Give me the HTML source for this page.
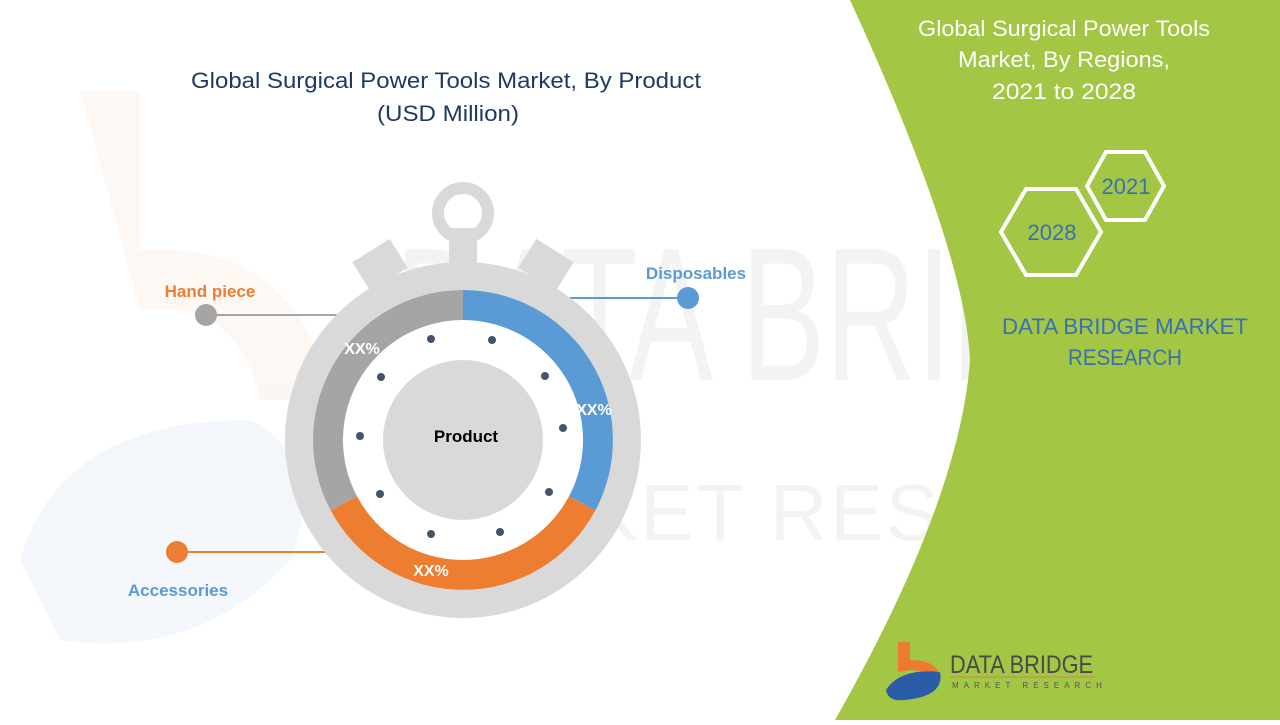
<!DOCTYPE html>
<html><head><meta charset="utf-8"><style>
body{margin:0;width:1280px;height:720px;overflow:hidden;background:#fff;font-family:"Liberation Sans",sans-serif}
</style></head><body>
<svg width="1280" height="720" viewBox="0 0 1280 720" xmlns="http://www.w3.org/2000/svg" font-family="Liberation Sans, sans-serif">
<g opacity="0.05">
<path d="M80,90 L140,90 L140,250 Q300,240 330,400 L260,400 Q240,300 140,310 Z" fill="#e8702a"/>
<path d="M20,560 Q60,420 250,420 Q330,460 290,560 Q200,660 60,640 Z" fill="#2a5ca8"/>
<text x="395" y="380" font-size="190" fill="#333" textLength="830" lengthAdjust="spacingAndGlyphs">DATA BRIDGE</text>
<text x="400" y="540" font-size="80" fill="#333" textLength="830" lengthAdjust="spacing">MARKET RESEARCH</text>
</g>
<path d="M850,0 L1280,0 L1280,720 L835,720 Q960,500 970,360 Q965,250 850,0 Z" fill="#a3c645"/>
<text x="1064" y="36" font-size="22" fill="#fff" text-anchor="middle" textLength="292" lengthAdjust="spacingAndGlyphs">Global Surgical Power Tools</text>
<text x="1064" y="67" font-size="22" fill="#fff" text-anchor="middle" textLength="212" lengthAdjust="spacingAndGlyphs">Market, By Regions,</text>
<text x="1064" y="99" font-size="22" fill="#fff" text-anchor="middle" textLength="144" lengthAdjust="spacingAndGlyphs">2021 to 2028</text>
<polygon points="1087,186 1106,152 1145,152 1164,186 1145,220 1106,220" fill="none" stroke="#fff" stroke-width="4"/>
<polygon points="1001,232 1026,189 1076,189 1101,232 1076,275 1026,275" fill="none" stroke="#fff" stroke-width="4"/>
<text x="1126" y="194" font-size="22" fill="#3b6fb5" text-anchor="middle">2021</text>
<text x="1052" y="240" font-size="22" fill="#3b6fb5" text-anchor="middle">2028</text>
<text x="1125" y="334" font-size="22" fill="#3b6fb5" text-anchor="middle" textLength="246" lengthAdjust="spacingAndGlyphs">DATA BRIDGE MARKET</text>
<text x="1125" y="365" font-size="22" fill="#3b6fb5" text-anchor="middle" textLength="114" lengthAdjust="spacingAndGlyphs">RESEARCH</text>
<path d="M898,642 L910,642 L910,660 Q940,660 940,680 L926,680 Q924,670 910,670 L898,672 Z" fill="#ec7a30"/>
<path d="M886,690 Q900,668 940,672 Q945,696 905,700 Q888,702 886,690 Z" fill="#2a5ca8"/>
<text x="950" y="673" font-size="25" fill="#4a4a4a" textLength="143" lengthAdjust="spacingAndGlyphs">DATA BRIDGE</text>
<line x1="950" y1="677" x2="1095" y2="677" stroke="#c98a3a" stroke-width="1"/>
<text x="952" y="688" font-size="8" fill="#555" letter-spacing="5">MARKET RESEARCH</text>
<text x="446" y="88" font-size="22" fill="#1f3864" text-anchor="middle" textLength="510" lengthAdjust="spacingAndGlyphs">Global Surgical Power Tools Market, By Product</text>
<text x="448" y="121" font-size="22" fill="#1f3864" text-anchor="middle" textLength="142" lengthAdjust="spacingAndGlyphs">(USD Million)</text>
<line x1="206" y1="315" x2="385" y2="315" stroke="#a5a5a5" stroke-width="2"/>
<line x1="500" y1="298" x2="688" y2="298" stroke="#5b9bd5" stroke-width="2"/>
<line x1="177" y1="552" x2="410" y2="552" stroke="#ed7d31" stroke-width="2"/>
<g fill="#d9d9d9">
<circle cx="463" cy="213" r="25" fill="none" stroke="#d9d9d9" stroke-width="12"/>
<rect x="449" y="228" width="28" height="45"/>
<rect x="358" y="248" width="44" height="34" transform="rotate(-32 380 265)"/>
<rect x="524" y="248" width="44" height="34" transform="rotate(32 546 265)"/>
<circle cx="463" cy="440" r="178"/>
</g>
<circle cx="463" cy="440" r="150" fill="#fff"/>
<path d="M463,290 A150,150 0 0 1 595.4,510.4 L569,496.3 A120,120 0 0 0 463,320 Z" fill="#5b9bd5"/>
<path d="M595.4,510.4 A150,150 0 0 1 330.6,510.4 L357,496.3 A120,120 0 0 0 569,496.3 Z" fill="#ed7d31"/>
<path d="M330.6,510.4 A150,150 0 0 1 463,290 L463,320 A120,120 0 0 0 357,496.3 Z" fill="#a5a5a5"/>
<circle cx="463" cy="440" r="80" fill="#d9d9d9"/>
<g fill="#44546a">
<circle cx="431" cy="339" r="4"/><circle cx="492" cy="340" r="4"/><circle cx="545" cy="376" r="4"/>
<circle cx="563" cy="428" r="4"/><circle cx="549" cy="492" r="4"/><circle cx="500" cy="532" r="4"/>
<circle cx="431" cy="534" r="4"/><circle cx="380" cy="494" r="4"/><circle cx="360" cy="436" r="4"/>
<circle cx="381" cy="377" r="4"/>
</g>
<text x="466" y="442" font-size="17" font-weight="bold" fill="#000" text-anchor="middle">Product</text>
<text x="362" y="354" font-size="16" font-weight="bold" fill="#fff" text-anchor="middle">XX%</text>
<text x="594" y="415" font-size="16" font-weight="bold" fill="#fff" text-anchor="middle">XX%</text>
<text x="431" y="576" font-size="16" font-weight="bold" fill="#fff" text-anchor="middle">XX%</text>
<circle cx="206" cy="315" r="11" fill="#a5a5a5"/>
<text x="210" y="297" font-size="17" font-weight="bold" fill="#ed7d31" text-anchor="middle">Hand piece</text>
<circle cx="688" cy="298" r="11" fill="#5b9bd5"/>
<text x="696" y="279" font-size="17" font-weight="bold" fill="#5b9bd5" text-anchor="middle">Disposables</text>
<circle cx="177" cy="552" r="11" fill="#ed7d31"/>
<text x="178" y="596" font-size="17" font-weight="bold" fill="#5b9bd5" text-anchor="middle">Accessories</text>
</svg>
</body></html>
